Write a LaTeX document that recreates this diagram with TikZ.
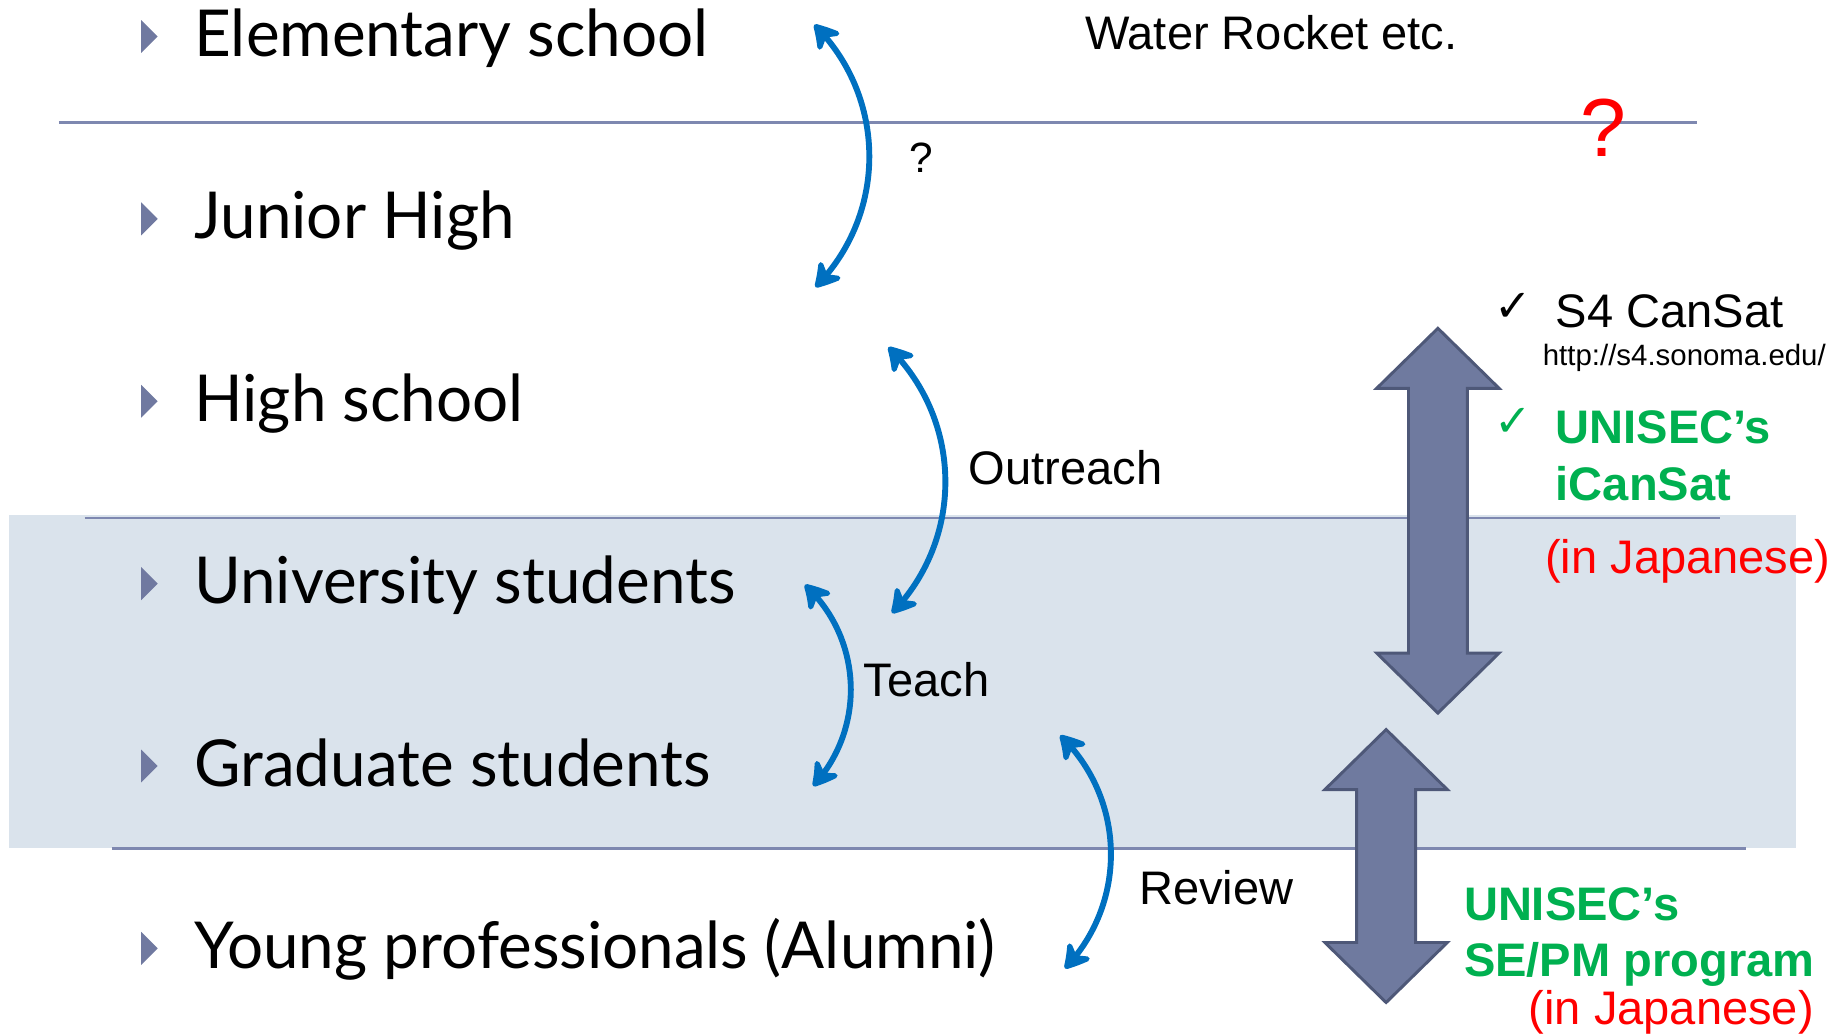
\documentclass[tikz,border=0pt]{standalone}
\usepackage{fontspec}
\setmainfont{Lato}[FakeStretch=0.985]
\newfontfamily\arialfont{Liberation Sans}
\newfontfamily\symbfont{DejaVu Sans}
\usetikzlibrary{arrows.meta, bending, positioning}
\tikzset{x=1pt,y=1pt, >={Stealth[length=26pt,width=30pt,inset=9pt,round,bend]}}
\definecolor{band}{RGB}{218,227,236}
\definecolor{ruleblue}{RGB}{126,136,176}
\definecolor{bulletblue}{RGB}{112,121,160}
\definecolor{arcblue}{RGB}{0,112,192}
\definecolor{arrowfill}{RGB}{111,122,159}
\definecolor{arrowedge}{RGB}{78,88,120}
\definecolor{unigreen}{RGB}{0,176,80}

\begin{document}
\begin{tikzpicture}
% Style
[
    row text/.style={anchor=base west, inner sep=0pt, font=\fontsize{55}{66}\selectfont},
    label text/.style={anchor=base west, inner sep=0pt, font=\arialfont\fontsize{40}{48}\selectfont},
    green text/.style={label text, text=unigreen, font=\arialfont\bfseries\fontsize{40}{48}\selectfont},
    red text/.style={label text, text=red},
    tick/.style={anchor=base west, inner sep=0pt, font=\symbfont\bfseries\fontsize{38}{44}\selectfont},
    level line/.style={draw=ruleblue, line width=2pt},
    blue arc/.style={<->, draw=arcblue, line width=5pt, bend left=45},
    big arrow/.style={fill=arrowfill, draw=arrowedge, line width=2.5pt}
]

%=================================== Start ===================================
{
    \useasboundingbox (0,0) rectangle (1568,-879);

    % Draw: Band and level lines
    \fill[band] (8,-438) rectangle (1526,-721);
    \draw[level line] (50,-104) -- (1442,-104);
    \draw[level line] (72,-440) -- (1462,-440);
    \draw[level line] (95,-721) -- (1484,-721);

    % Draw: Rows
    \foreach \name/\txt/\y in {elem/Elementary school/48, junior/Junior High/203,
        high/High school/358, univ/University students/513,
        grad/Graduate students/668, young/Young professionals (Alumni)/823} {
        \fill[bulletblue] (120,-\y+31) -- (134,-\y+17) -- (120,-\y+3) -- cycle;
        \node[row text] (\name) at (165,-\y) {\txt};
    }

    % Draw: Blue arcs
    \coordinate (arc1 top) at (692,-21);
    \coordinate (arc1 bot) at (693,-244);
    \coordinate (arc2 top) at (755,-295);
    \coordinate (arc2 bot) at (758,-521);
    \coordinate (arc3 top) at (684,-497);
    \coordinate (arc3 bot) at (691,-668);
    \coordinate (arc4 top) at (901,-625);
    \coordinate (arc4 bot) at (905,-823);
    \foreach \i in {1,...,4} {
        \draw[blue arc] (arc\i\space top) to (arc\i\space bot);
    }

    % Draw: Labels
    \node[label text] (water) at (922,-42) {Water Rocket etc.};
    \node[label text, font=\arialfont\fontsize{36}{40}\selectfont] (q small) at (773,-147) {?};
    \node[red text, font=\arialfont\fontsize{70}{80}\selectfont] (q red) at (1343,-133) {?};
    \node[label text] (outreach) at (823,-412) {Outreach};
    \node[label text] (teach) at (734,-592) {Teach};
    \node[label text] (review) at (968,-769) {Review};

    % Draw: Big double arrows
    \foreach \cx/\ya/\yb in {1222/279/606, 1178/620/852} {
        \draw[big arrow] (\cx,-\ya) -- (\cx+52,-\ya-51) -- (\cx+25,-\ya-51)
            -- (\cx+25,-\yb+51) -- (\cx+52,-\yb+51) -- (\cx,-\yb)
            -- (\cx-52,-\yb+51) -- (\cx-25,-\yb+51) -- (\cx-25,-\ya-51)
            -- (\cx-52,-\ya-51) -- cycle;
    }

    % Draw: CanSat notes
    \node[tick] (tick1) at (1270,-273) {✓};
    \node[label text] (s4) at (1322,-278) {S4 CanSat};
    \node[label text, font=\arialfont\fontsize{25}{30}\selectfont] (s4 url) at (1311,-311) {http://s4.sonoma.edu/};
    \node[tick, text=unigreen, font=\symbfont\fontsize{38}{44}\selectfont] (tick2) at (1270,-371) {✓};
    \node[green text] (uni1) at (1322,-377) {UNISEC’s};
    \node[green text] (icansat) at (1322,-425) {iCanSat};
    \node[red text] (jp1) at (1313,-487) {(in Japanese)};
    \node[green text] (uni2) at (1244,-782) {UNISEC’s};
    \node[green text] (sepm) at (1244,-830) {SE/PM program};
    \node[red text] (jp2) at (1299,-871) {(in Japanese)};
}
%==================================== END ====================================

\end{tikzpicture}
\end{document}
